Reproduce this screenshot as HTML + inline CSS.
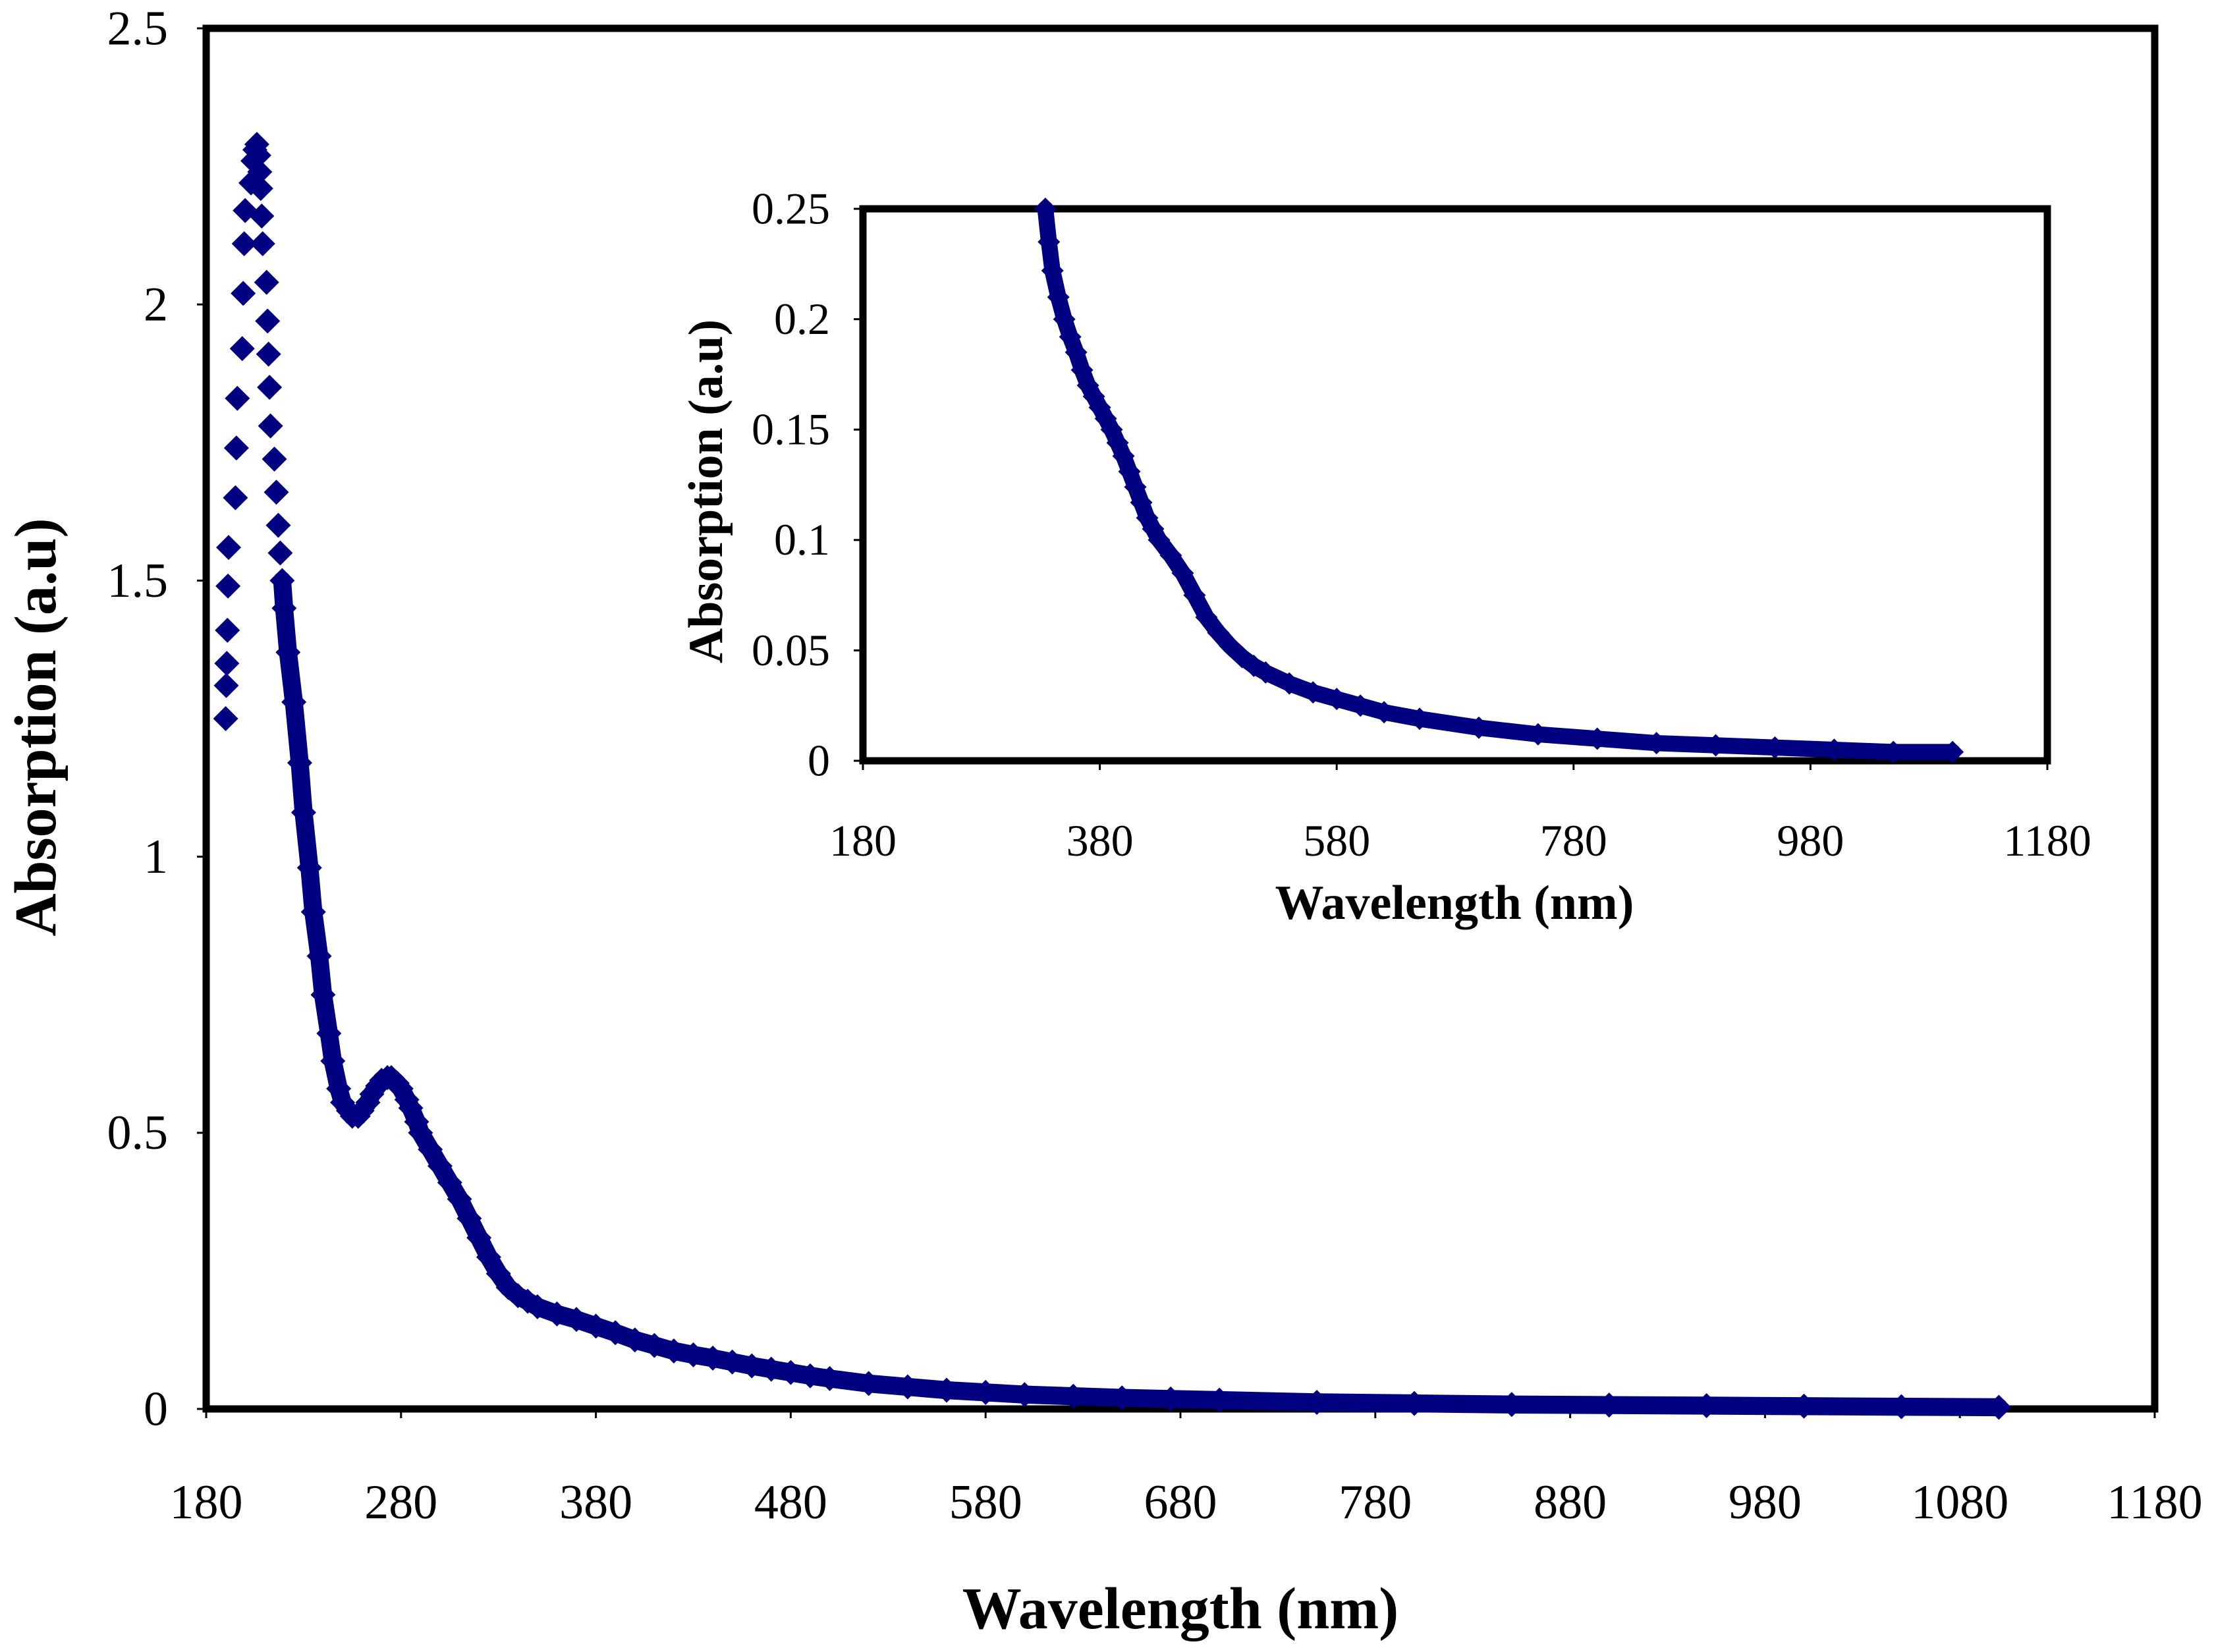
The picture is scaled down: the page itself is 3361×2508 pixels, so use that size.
<!DOCTYPE html>
<html><head><meta charset="utf-8"><style>
html,body{margin:0;padding:0;background:#fff;}
svg{display:block;}
text{font-family:"Liberation Serif","DejaVu Serif",serif;fill:#000;}
</style></head><body>
<svg id="chart" width="3361" height="2508" viewBox="0 0 3361 2508" xmlns="http://www.w3.org/2000/svg">
<g id="main"></g>
<g id="inset"></g>
</svg>
<script>
// Main spectrum data
const mainWavelengths = [190,190.3,190.6,190.9,191.2,191.5,195,195.5,196,198.5,199,199.5,200,203,204,205,206,207,207.5,208,208.5,209,211,211.5,212,212.5,213,215,216,217,218,219,220,222,225,228,230,233,235,238,240,243,245,248,250,253,255,258,260,263,265,268,270,273,275,278,280,283,285,288,290,295,300,305,310,315,320,325,330,335,340,345,350,360,370,380,390,400,410,420,430,440,450,460,470,480,490,500,520,540,560,580,600,625,650,675,700,750,800,850,900,950,1000,1050,1100];
const mainAbsorbance = [1.25,1.31,1.35,1.41,1.49,1.56,1.65,1.74,1.83,1.92,2.02,2.11,2.17,2.22,2.26,2.28,2.29,2.27,2.24,2.21,2.16,2.11,2.04,1.97,1.91,1.85,1.78,1.72,1.66,1.60,1.55,1.50,1.45,1.37,1.28,1.17,1.08,0.98,0.90,0.82,0.75,0.68,0.63,0.58,0.555,0.54,0.53,0.53,0.54,0.555,0.57,0.585,0.595,0.60,0.60,0.59,0.58,0.56,0.545,0.52,0.50,0.47,0.44,0.41,0.38,0.345,0.31,0.275,0.245,0.22,0.205,0.195,0.185,0.172,0.162,0.15,0.138,0.125,0.115,0.105,0.098,0.092,0.085,0.078,0.072,0.066,0.06,0.055,0.046,0.04,0.034,0.03,0.026,0.023,0.02,0.018,0.016,0.012,0.01,0.008,0.007,0.006,0.005,0.004,0.003];
const mainXTicks = [180,280,380,480,580,680,780,880,980,1080,1180];
const mainYTicks = [0,0.5,1,1.5,2,2.5];
const mainYTickLabels = ["0","0.5","1","1.5","2","2.5"];
// Inset data
const insetWavelengths = [334,337,340,345,350,355,360,365,370,375,380,385,390,395,400,405,410,415,420,425,430,440,450,460,470,480,490,500,510,520,540,560,580,600,620,650,700,750,800,850,900,950,1000,1050,1100];
const insetAbsorbance = [0.25,0.235,0.222,0.21,0.20,0.192,0.185,0.177,0.17,0.165,0.16,0.155,0.15,0.144,0.138,0.131,0.124,0.117,0.11,0.105,0.10,0.093,0.085,0.075,0.065,0.058,0.052,0.047,0.043,0.04,0.035,0.031,0.028,0.025,0.022,0.019,0.015,0.012,0.01,0.008,0.007,0.006,0.005,0.004,0.004];
const insetXTicks = [180,380,580,780,980,1180];
const insetYTicks = [0,0.05,0.1,0.15,0.2,0.25];
const insetYTickLabels = ["0","0.05","0.1","0.15","0.2","0.25"];

const NS="http://www.w3.org/2000/svg";
function mk(tag,attrs,parent){const e=document.createElementNS(NS,tag);for(const k in attrs)e.setAttribute(k,attrs[k]);parent.appendChild(e);return e;}

function drawPlot(g,box,xDom,yDom,xs,ys,xt,yt,ytl,opt){
  const X=v=>box.l+(v-xDom[0])/(xDom[1]-xDom[0])*(box.r-box.l);
  const Y=v=>box.b-(v-yDom[0])/(yDom[1]-yDom[0])*(box.b-box.t);
  const frame=mk('rect',{x:box.l,y:box.t,width:box.r-box.l,height:box.b-box.t,fill:'#fff',stroke:'#000','stroke-width':opt.fw},g);
  
  
  xt.forEach(v=>{
    const t=mk('line',{x1:X(v),x2:X(v),y1:box.b,y2:box.b+opt.tl,stroke:'#000','stroke-width':3},g);
    
    
    const lb=mk('text',{x:X(v),y:box.b+opt.xly,'font-size':opt.fs,'text-anchor':'middle'},g);
    lb.textContent=String(v);
    
    
  });
  yt.forEach((v,i)=>{
    const t=mk('line',{x1:box.l-opt.tl,x2:box.l,y1:Y(v),y2:Y(v),stroke:'#000','stroke-width':3},g);
    
    
    const lb=mk('text',{x:box.l-opt.ylx,y:Y(v)+opt.fs*0.33,'font-size':opt.fs,'text-anchor':'end'},g);
    lb.textContent=ytl[i];
    
    
  });
  const cid=opt.p+'clip';
  const cp=mk('clipPath',{id:cid},g);
  mk('rect',{x:box.l-40,y:box.t-25,width:box.r-box.l+80,height:box.b-box.t+50},cp);
  const sg=mk('g',{'clip-path':'url(#'+cid+')'},g);
  
  
  const pts=[];
  xs.forEach((x,i)=>{ if(x>=opt.bandFrom) pts.push(X(x)+','+Y(ys[i])); });
  const band=mk('polyline',{points:pts.join(' '),fill:'none',stroke:'#000080','stroke-width':opt.ms*0.72,'stroke-linejoin':'round','stroke-linecap':'round'},sg);
  
  
  const h=opt.ms/2;
  xs.forEach((x,i)=>{
    const cx=X(x),cy=Y(ys[i]);
    const d=mk('polygon',{points:`${cx},${cy-h} ${cx+h},${cy} ${cx},${cy+h} ${cx-h},${cy}`,fill:'#000080'},sg);
    
    
  });
  const xtitle=mk('text',{x:opt.xtx,y:opt.xty,'font-size':opt.tfs,'font-weight':'bold','text-anchor':'middle'},g);
  xtitle.textContent='Wavelength (nm)';
  
  
  const ytitle=mk('text',{x:0,y:0,'font-size':opt.tfs,'font-weight':'bold','text-anchor':'middle',transform:`translate(${opt.ytx},${opt.yty}) rotate(-90)`},g);
  ytitle.textContent='Absorption (a.u)';
  
  
}

drawPlot(document.getElementById('main'),{l:313,r:3271,t:43,b:2139},[180,1180],[0,2.5],
  mainWavelengths,mainAbsorbance,mainXTicks,mainYTicks,mainYTickLabels,
  {p:'main-',fw:11,tl:14,fs:74,xly:166,ylx:58,ms:38,tfs:90,xtx:1792,xty:2472,ytx:84,yty:1104,bandFrom:219});
drawPlot(document.getElementById('inset'),{l:1310,r:3108,t:317,b:1155},[180,1180],[0,0.25],
  insetWavelengths,insetAbsorbance,insetXTicks,insetYTicks,insetYTickLabels,
  {p:'inset-',fw:11,tl:14,fs:68,xly:144,ylx:50,ms:34,tfs:74,xtx:2208,xty:1395,ytx:1096,yty:746,bandFrom:0});
</script>
</body></html>
